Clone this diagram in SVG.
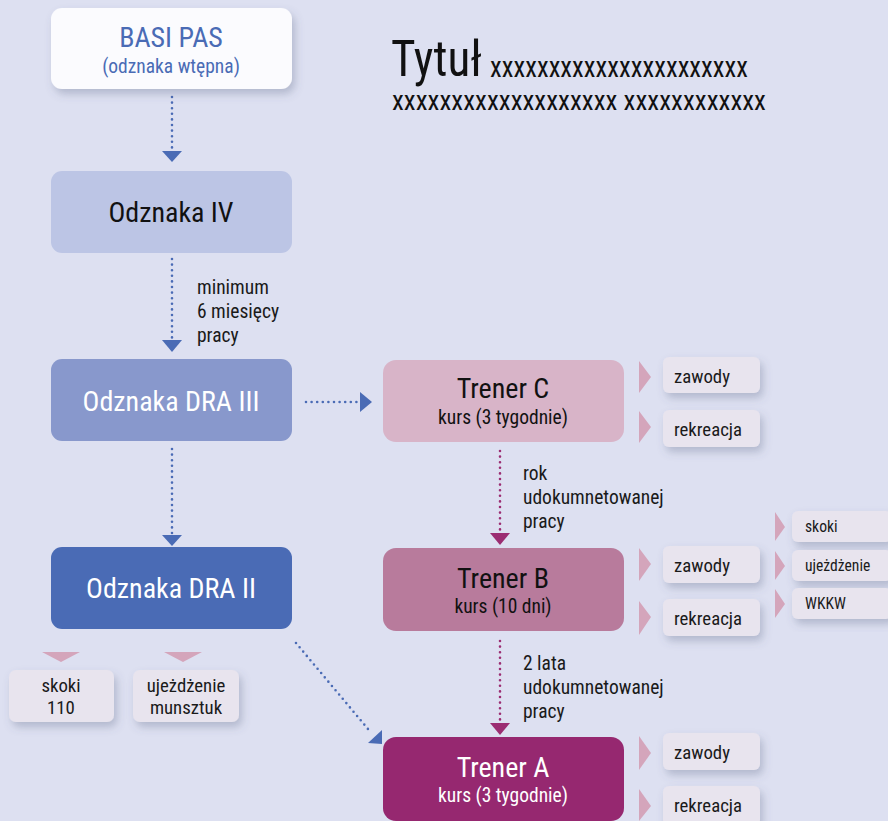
<svg xmlns="http://www.w3.org/2000/svg" width="888" height="821" viewBox="0 0 888 821">
<defs>
<filter id="sh" x="-20%" y="-20%" width="150%" height="160%"><feDropShadow dx="3" dy="5" stdDeviation="4" flood-color="#50587a" flood-opacity="0.3"/></filter>
</defs>
<style>
text{font-family:"Liberation Sans Narrow","Roboto Condensed","Liberation Sans",sans-serif;font-weight:400;}
.big{font-size:28px;text-anchor:middle}
.sub{font-size:19.5px;text-anchor:middle}
.lbl{font-size:19.5px;fill:#1a1a1a}
.tag{font-size:18.8px;fill:#1a1a1a}
.tags{font-size:15.6px;fill:#1a1a1a}
.tagbox{fill:#e8e4ee;filter:url(#sh)}
.tri{fill:#d4a5bb}
.db{fill:none;stroke:#4a6bb5;stroke-width:2.6;stroke-dasharray:0 5.6;stroke-linecap:round}
.dp{fill:none;stroke:#9b2d72;stroke-width:2.6;stroke-dasharray:0 5.6;stroke-linecap:round}
.hb{fill:#4a6bb5}
.hp{fill:#9b2d72}
</style>
<rect width="888" height="821" fill="#dde0f1"/>
<g id="title">
<text x="391" y="76" font-size="50" fill="#111" textLength="91" lengthAdjust="spacingAndGlyphs">Tytuł</text>
<text x="490" y="77" font-size="29" fill="#111" textLength="258" lengthAdjust="spacingAndGlyphs">xxxxxxxxxxxxxxxxxxxxxx</text>
<text x="392" y="110" font-size="27" fill="#111" textLength="374" lengthAdjust="spacingAndGlyphs">xxxxxxxxxxxxxxxxxxx xxxxxxxxxxxx</text>
</g>
<g id="connectors">
<line class="db" x1="172" y1="97" x2="172" y2="150"/>
<polygon class="hb" points="162,151 182,151 172,162"/>
<line class="db" x1="172" y1="259" x2="172" y2="339"/>
<polygon class="hb" points="162,340 182,340 172,352"/>
<line class="db" x1="306" y1="402" x2="358" y2="402"/>
<polygon class="hb" points="360,392 360,412 372,402"/>
<line class="db" x1="172" y1="449" x2="172" y2="533"/>
<polygon class="hb" points="162,535 182,535 172,546"/>
<line class="db" x1="296" y1="643" x2="368" y2="729"/>
<polygon class="hb" points="382,730 368,743 382,744"/>
<line class="dp" x1="500" y1="451" x2="500" y2="531"/>
<polygon class="hp" points="490,533 510,533 500,545"/>
<line class="dp" x1="500" y1="641" x2="500" y2="721"/>
<polygon class="hp" points="490,723 510,723 500,735"/>
<text class="lbl" x="197" y="294">minimum</text>
<text class="lbl" x="197" y="318">6 miesięcy</text>
<text class="lbl" x="197" y="342">pracy</text>
<text class="lbl" x="523" y="480">rok</text>
<text class="lbl" x="523" y="504">udokumnetowanej</text>
<text class="lbl" x="523" y="528">pracy</text>
<text class="lbl" x="523" y="670">2 lata</text>
<text class="lbl" x="523" y="694">udokumnetowanej</text>
<text class="lbl" x="523" y="718">pracy</text>
</g>
<g id="basi">
<rect x="51" y="8" width="241" height="81" rx="11" fill="#fbfbfe" filter="url(#sh)"/>
<text class="big" x="171" y="47" fill="#4a6bb5" font-size="31.5">BASI PAS</text>
<text class="sub" x="171" y="73" fill="#4a6bb5" font-size="20.5">(odznaka wtępna)</text>
</g>
<g id="odz4">
<rect x="51" y="171" width="241" height="82" rx="11" fill="#bcc5e5"/>
<text class="big" x="171" y="222" fill="#111">Odznaka IV</text>
</g>
<g id="dra3">
<rect x="51" y="359" width="241" height="82" rx="11" fill="#8898cc"/>
<text class="big" x="171" y="411" fill="#fff">Odznaka DRA III</text>
</g>
<g id="dra2">
<rect x="51" y="547" width="241" height="82" rx="11" fill="#4a6bb5"/>
<text class="big" x="171" y="598" fill="#fff">Odznaka DRA II</text>
</g>
<g id="trenerC">
<rect x="383" y="360" width="241" height="82" rx="13" fill="#d8b4c8"/>
<text class="big" x="503" y="398" fill="#111">Trener C</text>
<text class="sub" x="503" y="424" fill="#111">kurs (3 tygodnie)</text>
</g>
<g id="trenerB">
<rect x="383" y="548" width="241" height="83" rx="13" fill="#b87b9c"/>
<text class="big" x="503" y="588" fill="#111">Trener B</text>
<text class="sub" x="503" y="613" fill="#111">kurs (10 dni)</text>
</g>
<g id="trenerA">
<rect x="383" y="737" width="241" height="84" rx="13" fill="#962870"/>
<text class="big" x="503" y="777" fill="#fff">Trener A</text>
<text class="sub" x="503" y="802" fill="#fff">kurs (3 tygodnie)</text>
</g>
<g id="c-zawody">
<polygon class="tri" points="639,361 651,377 639,393"/>
<rect class="tagbox" x="663" y="357" width="97" height="36" rx="6"/>
<text class="tag" x="674" y="383">zawody</text>
</g>
<g id="c-rekreacja">
<polygon class="tri" points="639,411 651,427 639,443"/>
<rect class="tagbox" x="663" y="410" width="97" height="37" rx="6"/>
<text class="tag" x="674" y="436">rekreacja</text>
</g>
<g id="b-zawody">
<polygon class="tri" points="639,548 651,564 639,581"/>
<rect class="tagbox" x="663" y="546" width="97" height="37" rx="6"/>
<text class="tag" x="674" y="572">zawody</text>
</g>
<g id="b-rekreacja">
<polygon class="tri" points="639,601 651,617 639,635"/>
<rect class="tagbox" x="663" y="599" width="97" height="37" rx="6"/>
<text class="tag" x="674" y="625">rekreacja</text>
</g>
<g id="b-skoki">
<polygon class="tri" points="775,512 785,527 775,541"/>
<rect class="tagbox" x="792" y="511" width="100" height="31" rx="6"/>
<text class="tags" x="805" y="532">skoki</text>
</g>
<g id="b-ujezdzenie">
<polygon class="tri" points="775,551 785,566 775,580"/>
<rect class="tagbox" x="792" y="550" width="100" height="31" rx="6"/>
<text class="tags" x="805" y="571">ujeżdżenie</text>
</g>
<g id="b-wkkw">
<polygon class="tri" points="775,589 785,604 775,618"/>
<rect class="tagbox" x="792" y="588" width="100" height="31" rx="6"/>
<text class="tags" x="805" y="609">WKKW</text>
</g>
<g id="a-zawody">
<polygon class="tri" points="639,736 651,753 639,770"/>
<rect class="tagbox" x="663" y="733" width="97" height="37" rx="6"/>
<text class="tag" x="674" y="759">zawody</text>
</g>
<g id="a-rekreacja">
<polygon class="tri" points="639,789 651,806 639,821"/>
<rect class="tagbox" x="663" y="786" width="97" height="40" rx="6"/>
<text class="tag" x="674" y="812">rekreacja</text>
</g>
<g id="d-skoki">
<polygon class="tri" points="42,652 80,652 61,662"/>
<rect class="tagbox" x="9" y="670" width="105" height="52" rx="7"/>
<text class="tag" x="61" y="692" text-anchor="middle">skoki</text>
<text class="tag" x="61" y="714" text-anchor="middle">110</text>
</g>
<g id="d-ujezdzenie">
<polygon class="tri" points="164,652 202,652 183,662"/>
<rect class="tagbox" x="133" y="670" width="106" height="52" rx="7"/>
<text class="tag" x="186" y="692" text-anchor="middle" font-size="19.5">ujeżdżenie</text>
<text class="tag" x="186" y="714" text-anchor="middle" font-size="19.5">munsztuk</text>
</g>
</svg>
